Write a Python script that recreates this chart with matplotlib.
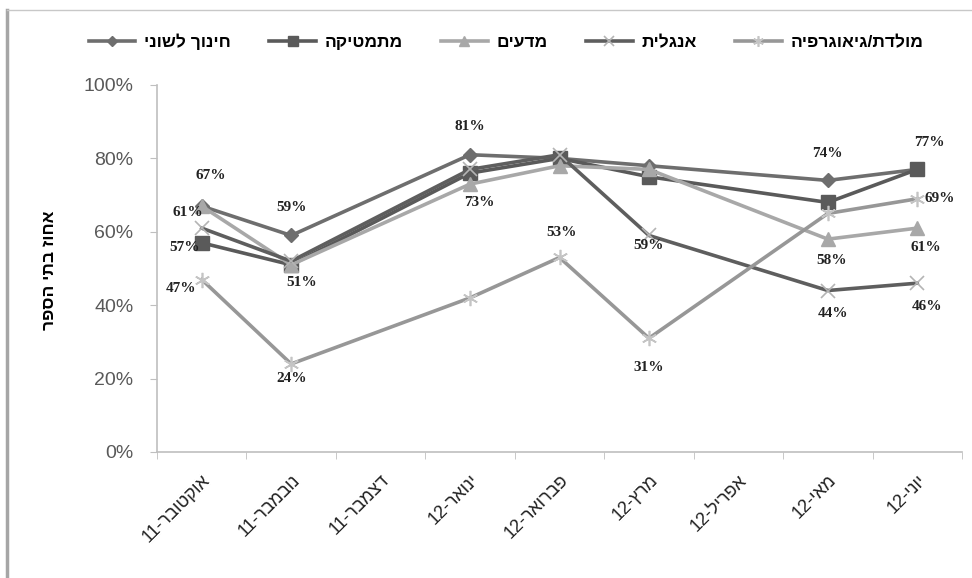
import re

import matplotlib.pyplot as plt
from matplotlib.lines import Line2D
from matplotlib.ticker import FuncFormatter, MultipleLocator

plt.rcParams["font.family"] = ["Liberation Sans", "DejaVu Sans"]

# categories (Dec-11 and Apr-12 have no data)
months = ["אוקטובר-11", "נובמבר-11", "דצמבר-11", "ינואר-12", "פברואר-12",
          "מרץ-12", "אפריל-12", "מאי-12", "יוני-12"]
data_idx = [0, 1, 3, 4, 5, 7, 8]

lang = [0.67, 0.59, 0.81, 0.80, 0.78, 0.74, 0.77]
math = [0.57, 0.51, 0.76, 0.80, 0.75, 0.68, 0.77]
sci = [0.67, 0.51, 0.73, 0.78, 0.77, 0.58, 0.61]
eng = [0.61, 0.52, 0.77, 0.81, 0.59, 0.44, 0.46]
geo = [0.47, 0.24, 0.42, 0.53, 0.31, 0.65, 0.69]

names = ["חינוך לשוני", "מתמטיקה", "מדעים", "אנגלית", "מולדת/גיאוגרפיה"]
y_title = "אחוז בתי הספר"


def vis(s):
    # matplotlib has no bidi: flip Hebrew into visual order, keep numbers intact
    parts = re.findall(r"\d+|\D", s)
    return "".join(reversed(parts))


# (point index, dx px, dy px) for the data labels that are shown
label_pos = [
    [(0, 9, 31), (1, 0, 28), (2, 0, 28), (5, 0, 27)],
    [(0, -17, -5), (6, 12, 27)],
    [(1, 10, -18), (2, 9, -18), (5, 4, -21), (6, 9, -19)],
    [(0, -14, 16), (4, 0, -10), (5, 5, -23), (6, 10, -23)],
    [(0, -21, -9), (1, 0, -15), (3, 2, 25), (4, 0, -29), (6, 22, 0)],
]

styles = [
    dict(color="#6e6e6e", marker="D", ms=7),
    dict(color="#5a5a5a", marker="s", ms=10),
    dict(color="#a8a8a8", marker="^", ms=10),
    dict(color="#5e5e5e", marker="x", ms=10, mec="#b4b4b4", mew=1.2),
    dict(color="#979797", marker=(6, 2, 0), ms=11, mec="#c4c4c4", mew=1.2),
]

fig = plt.figure(figsize=(9.72, 5.78), dpi=100)
ax = fig.add_axes([157 / 972, 1 - 452 / 578, 805 / 972, 367 / 578])

series = [lang, math, sci, eng, geo]
handles = []
for vals, st, name, labs in zip(series, styles, names, label_pos):
    (ln,) = ax.plot(data_idx, vals, lw=2.6, label=vis(name), **st)
    handles.append(ln)
    for i, dx, dy in labs:
        ax.annotate(f"{vals[i] * 100:.0f}%", (data_idx[i], vals[i]),
                    xytext=(dx, dy), textcoords="offset pixels",
                    ha="center", va="center", fontsize=11, fontweight="bold",
                    family=["Liberation Serif", "DejaVu Serif"], color="#222222")

ax.set_xlim(-0.5, len(months) - 0.5)
ax.set_ylim(0, 1)
ax.yaxis.set_major_locator(MultipleLocator(0.2))
ax.yaxis.set_major_formatter(FuncFormatter(lambda v, _: f"{v * 100:.0f}%"))
ax.set_xticks(range(len(months)))
ax.set_xticklabels([vis(m) for m in months], rotation=45, ha="right",
                   va="top", rotation_mode="anchor", fontsize=13, color="#222222")
ax.set_xticks([i - 0.5 for i in range(len(months) + 1)], minor=True)
ax.tick_params(axis="x", which="major", length=0, pad=14)
ax.tick_params(axis="x", which="minor", length=5, color="#bfbfbf")
ax.tick_params(axis="y", length=5, color="#bfbfbf", labelsize=14,
               labelcolor="#595959", pad=12)

for side in ["top", "right"]:
    ax.spines[side].set_visible(False)
for side in ["left", "bottom"]:
    ax.spines[side].set_color("#bfbfbf")
    ax.spines[side].set_linewidth(1.2)

fig.text(50 / 972, 1 - 270 / 578, vis(y_title), rotation=90, ha="center",
         va="center", fontsize=12.5, fontweight="bold")

fig.legend(handles=handles, loc="center", bbox_to_anchor=(506 / 972, 1 - 42 / 578),
           ncol=5, frameon=False, handlelength=2.7, handletextpad=0.5,
           columnspacing=2.2, markerscale=0.7, prop=dict(size=12.5, weight="bold"))

# partial outer frame as in the original
fig.add_artist(Line2D([7 / 972, 7 / 972], [0, 1 - 10 / 578], color="#a6a6a6", lw=2.5))
fig.add_artist(Line2D([7 / 972, 1], [1 - 10 / 578, 1 - 10 / 578], color="#c8c8c8", lw=1))

fig.savefig("out.png", dpi=100)
